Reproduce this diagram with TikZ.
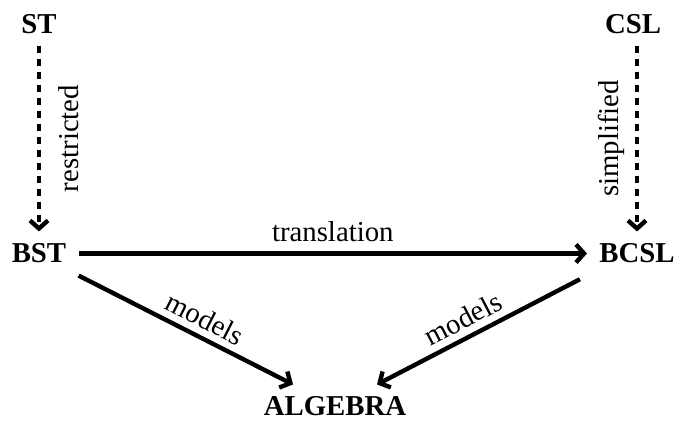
\documentclass[tikz,border=0pt]{standalone}
\usepackage{fontspec}
\setmainfont{Liberation Serif}
\usetikzlibrary{arrows.meta,positioning}

\begin{document}
\begin{tikzpicture}[
  sys/.style={font=\fontsize{14.4}{17}\selectfont\bfseries, inner sep=6pt, anchor=base},
  lbl/.style={font=\fontsize{14.4}{17}\selectfont},
  rel/.style={-{Straight Barb[length=4pt,width=9pt]}, line width=2.2pt},
  weak/.style={rel, dash pattern=on 3.5pt off 3pt},
]
  \useasboundingbox (0,0) rectangle (11.863,-7.399);

  % Theories
  \node[sys] (st) at (0.685,-0.58) {ST};
  \node[sys] (csl) at (11.125,-0.58) {CSL};
  \node[sys] (bst) at (0.685,-4.62) {BST};
  \node[sys] (bcsl) at (11.195,-4.62) {BCSL};
  \node[sys] (alg) at (5.888,-7.31) {ALGEBRA};

  % Restrictions
  \draw[weak] (st.south) -- (bst.north)
    node[midway, lbl, rotate=90, anchor=north, inner sep=8.5pt] {restricted};
  \draw[weak] (csl.south -| bcsl.north) -- (bcsl.north)
    node[midway, lbl, rotate=90, anchor=south, inner sep=5pt] {simplified};

  % Translation and models
  \draw[rel] (bst.east) -- (bcsl.west) node[midway, lbl, above=1.5pt] {translation};
  \draw[rel] (bst.south east) -- ([xshift=-21pt]alg.north)
    node[pos=0.55, lbl, sloped, above] {models};
  \draw[rel, shorten <=4pt] (bcsl.south west) -- ([xshift=21pt]alg.north)
    node[pos=0.55, lbl, sloped, above] {models};
\end{tikzpicture}
\end{document}
